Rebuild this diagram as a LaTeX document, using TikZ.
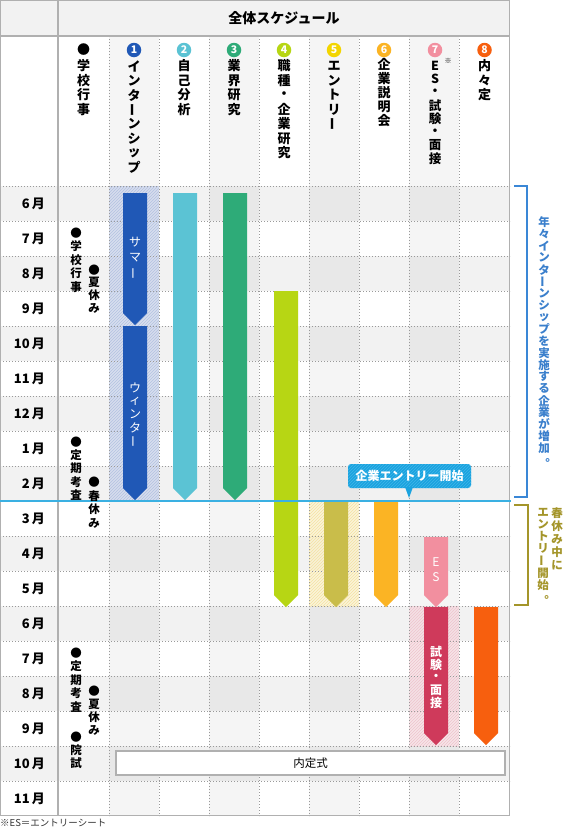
\documentclass[tikz,border=0pt]{standalone}
\usepackage{fontspec}
\setmainfont{Noto Sans CJK JP}
\usepackage{graphicx}
\usetikzlibrary{patterns}
\definecolor{rowgray}{HTML}{F2F2F2}
\definecolor{colshade}{HTML}{F5F5F5}
\definecolor{crossgray}{HTML}{E8E8E8}
\definecolor{framegray}{HTML}{B0B0B0}
\definecolor{dotgray}{HTML}{999999}
\definecolor{cblue}{HTML}{2058B6}
\definecolor{cteal}{HTML}{5BC3D4}
\definecolor{cgreen}{HTML}{2EAB78}
\definecolor{cyg}{HTML}{B7D614}
\definecolor{cyellow}{HTML}{F3D500}
\definecolor{colive}{HTML}{C9BD4A}
\definecolor{corange}{HTML}{FBB424}
\definecolor{cpink}{HTML}{F28F9F}
\definecolor{ccrimson}{HTML}{CF3A5B}
\definecolor{cred}{HTML}{F75F0E}
\definecolor{internbase}{HTML}{D3DCEE}
\definecolor{internline}{HTML}{B3C2E1}
\definecolor{yelbase}{HTML}{FDF4D3}
\definecolor{yelline}{HTML}{F4E2A2}
\definecolor{pinkbase}{HTML}{F8E0E5}
\definecolor{pinkline}{HTML}{EEC4CD}
\definecolor{ccall}{HTML}{1BA3DF}
\definecolor{ccallline}{HTML}{3FB6E9}
\definecolor{cline}{HTML}{3AB0E2}
\definecolor{bracketblue}{HTML}{3A87D6}
\definecolor{bluetext}{HTML}{3A7FCC}
\definecolor{olivec}{HTML}{A4952A}
\newcommand{\vbar}{\rotatebox[origin=c]{90}{ー}}
\newcommand{\vmaru}{\rotatebox[origin=c]{180}{。}}
\newcommand{\vtext}[6]{\foreach \c [count=\i] in {#6} {\node[#5] (#1-\i) at (#2,{#3+(\i-1)*#4}) {\c};}}
\newcommand{\tipbar}[5]{\fill[#5] (#1,#3) -- (#2,#3) -- (#2,{#4-12}) -- ({(#1+#2)/2},#4) -- (#1,{#4-12}) -- cycle;}
\tikzset{
  hdr/.style={font=\bfseries\fontsize{13}{13}\selectfont, inner sep=0},
  hdrs/.style={font=\bfseries\fontsize{12.5}{12.5}\selectfont, inner sep=0},
  evt/.style={font=\bfseries\fontsize{11.5}{11.5}\selectfont, inner sep=0},
  bartxt/.style={text=white, font=\fontsize{12}{12}\selectfont, inner sep=0},
  bartxtb/.style={text=white, font=\bfseries\fontsize{12}{12}\selectfont, inner sep=0},
  mon/.style={anchor=east, font=\bfseries\fontsize{13}{13}\selectfont, inner sep=0},
  numc/.style={circle, inner sep=0, minimum size=14.5, text=white, font=\bfseries\fontsize{10.5}{10.5}\selectfont},
  bluetxt/.style={text=bluetext, font=\bfseries\fontsize{11.5}{11.5}\selectfont, inner sep=0},
  olivetxt/.style={text=olivec, font=\bfseries\fontsize{11.5}{11.5}\selectfont, inner sep=0},
  grid/.style={dotgray, line width=0.8, dash pattern=on 1pt off 2pt},
  frame/.style={framegray, line width=1.2},
}
\begin{document}
\begin{tikzpicture}[x=1pt,y=-1pt]
\useasboundingbox (0,0) rectangle (566,830);
\fill[white] (0,0) rectangle (566,830);
% header
\fill[rowgray] (0,0) rectangle (510,36);
\foreach \xa/\xb in {109/159,209/259,309/359,409/459} \fill[colshade] (\xa,36) rectangle (\xb,186);
% body rows
\foreach \r in {0,...,17}{
  \pgfmathsetmacro\ya{186+35*\r}
  \pgfmathsetmacro\yb{\ya+35}
  \ifodd\r \def\rc{white}\def\cc{colshade}\else \def\rc{rowgray}\def\cc{crossgray}\fi
  \fill[\rc] (0,\ya) rectangle (510,\yb);
  \foreach \xa/\xb in {109/159,209/259,309/359,409/459} \fill[\cc] (\xa,\ya) rectangle (\xb,\yb);
}
% hatched areas
\fill[internbase, opacity=0.85] (109,186) rectangle (159,501);
\fill[pattern=north east lines, pattern color=internline] (109,186) rectangle (159,501);
\fill[yelbase, opacity=0.8] (309,501) rectangle (359,606);
\fill[pattern=north east lines, pattern color=yelline] (309,501) rectangle (359,606);
\fill[pinkbase, opacity=0.8] (409,606) rectangle (459,746);
\fill[pattern=north east lines, pattern color=pinkline] (409,606) rectangle (459,746);
% grid
\foreach \x in {109,159,209,259,309,359,409,459} \draw[grid] (\x,36) -- (\x,816);
\foreach \k in {0,...,17} \draw[grid] (0,{186+35*\k}) -- (510,{186+35*\k});
\draw[frame] (0.6,0.6) rectangle (509.6,815.6);
\draw[frame] (58,0) -- (58,816);
\draw[frame] (0,36) -- (510,36);
% bars
\tipbar{123}{147}{193}{325}{cblue}
\tipbar{123}{147}{326}{500}{cblue}
\tipbar{173}{197}{193}{500}{cteal}
\tipbar{223}{247}{193}{500}{cgreen}
\tipbar{274}{298}{291}{607}{cyg}
\tipbar{324}{348}{502}{607}{colive}
\tipbar{374}{398}{502}{607}{corange}
\tipbar{424}{448}{607}{745}{ccrimson}
\tipbar{424}{448}{537}{607}{cpink}
\tipbar{474}{498}{607}{745}{cred}
% start line
\draw[cline, line width=2] (0,501) -- (511,501);
% callout
\fill[ccall, rounded corners=3] (348,464) rectangle (471,488);
\fill[pattern=north east lines, pattern color=ccallline, rounded corners=3] (348,464) rectangle (471,488);
\fill[ccall] (405,487) -- (413,487) -- (409,498) -- cycle;
\node[text=white, font=\bfseries\fontsize{12}{12}\selectfont, inner sep=0] (callout) at (409.5,476) {企業エントリー開始};
% title
\node[font=\bfseries\fontsize{14}{14}\selectfont, inner sep=0] (title) at (284,18) {全体スケジュール};
% header columns
\node[hdr] (h0) at (83.5,50) {●};
\vtext{c0}{83.5}{66}{14.5}{hdr}{学,校,行,事}
\node[numc, fill=cblue] (n1) at (134,50) {1};
\vtext{c1}{134}{66}{14.5}{hdr}{イ,ン,タ,\vbar,ン,シ,ッ,プ}
\node[numc, fill=cteal] (n2) at (184,50) {2};
\vtext{c2}{184}{66}{14.5}{hdr}{自,己,分,析}
\node[numc, fill=cgreen] (n3) at (234,50) {3};
\vtext{c3}{234}{66}{14.5}{hdr}{業,界,研,究}
\node[numc, fill=cyg] (n4) at (284,50) {4};
\vtext{c4}{284}{66}{14.5}{hdr}{職,種,・,企,業,研,究}
\node[numc, fill=cyellow] (n5) at (334,50) {5};
\vtext{c5}{334}{66}{14.5}{hdr}{エ,ン,ト,リ,\vbar}
\node[numc, fill=corange] (n6) at (384,50) {6};
\vtext{c6}{384}{64}{14.2}{hdr}{企,業,説,明,会}
\node[numc, fill=cpink] (n7) at (435,50) {7};
\vtext{c7}{435}{66}{13.2}{hdrs}{E,S,・,試,験,・,面,接}
\node[font=\fontsize{7}{7}\selectfont, inner sep=0] (kome) at (448,61) {※};
\node[numc, fill=cred] (n8) at (484.5,50) {8};
\vtext{c8}{484.5}{66}{14.5}{hdr}{内,々,定}
% months
\foreach \m [count=\i from 0] in {6,7,8,9,10,11,12,1,2,3,4,5,6,7,8,9,10,11}
  \node[mon] (m\i) at (45,{203.5+35*\i}) {\m\kern2pt 月};
% school events
\vtext{ev1}{76}{233}{13.5}{evt}{●,学,校,行,事}
\vtext{ev2}{94}{270}{12.7}{evt}{●,夏,休,み}
\vtext{ev3}{76}{442}{13.3}{evt}{●,定,期,考,査}
\vtext{ev4}{94}{482}{13.7}{evt}{●,春,休,み}
\vtext{ev5}{76}{653}{13.5}{evt}{●,定,期,考,査}
\vtext{ev6}{94}{691}{13}{evt}{●,夏,休,み}
\vtext{ev7}{76}{737}{13}{evt}{●,院,試}
% bar labels
\vtext{b1}{135}{242}{15.5}{bartxt}{サ,マ,\vbar}
\vtext{b2}{135}{388}{13.3}{bartxt}{ウ,ィ,ン,タ,\vbar}
\vtext{b3}{436}{562}{15}{bartxt}{E,S}
\vtext{b4}{436}{652}{12.75}{bartxtb}{試,験,・,面,接}
% naiteishiki
\node[draw=framegray, line width=1.2, fill=white, minimum width=389, minimum height=24, inner sep=0, font=\fontsize{11.5}{11.5}\selectfont] (naitei) at (310.5,763) {内定式};
% brackets and notes
\draw[bracketblue, line width=2] (514,186) -- (527,186) -- (527,497) -- (514,497);
\vtext{bt}{544}{222}{11.9}{bluetxt}{年,々,イ,ン,タ,\vbar,ン,シ,ッ,プ,を,実,施,す,る,企,業,が,増,加,\vmaru}
\draw[olivec, line width=2] (514,505) -- (528,505) -- (528,605) -- (514,605);
\vtext{ot1}{557}{513}{13}{olivetxt}{春,休,み,中,に}
\vtext{ot2}{543}{512}{12.2}{olivetxt}{エ,ン,ト,リ,\vbar,開,始,\vmaru}
% footnote
\node[anchor=west, font=\fontsize{9.5}{9.5}\selectfont, text=black!80, inner sep=0] (fn) at (0,823) {※ES＝エントリーシート};
\end{tikzpicture}
\end{document}
